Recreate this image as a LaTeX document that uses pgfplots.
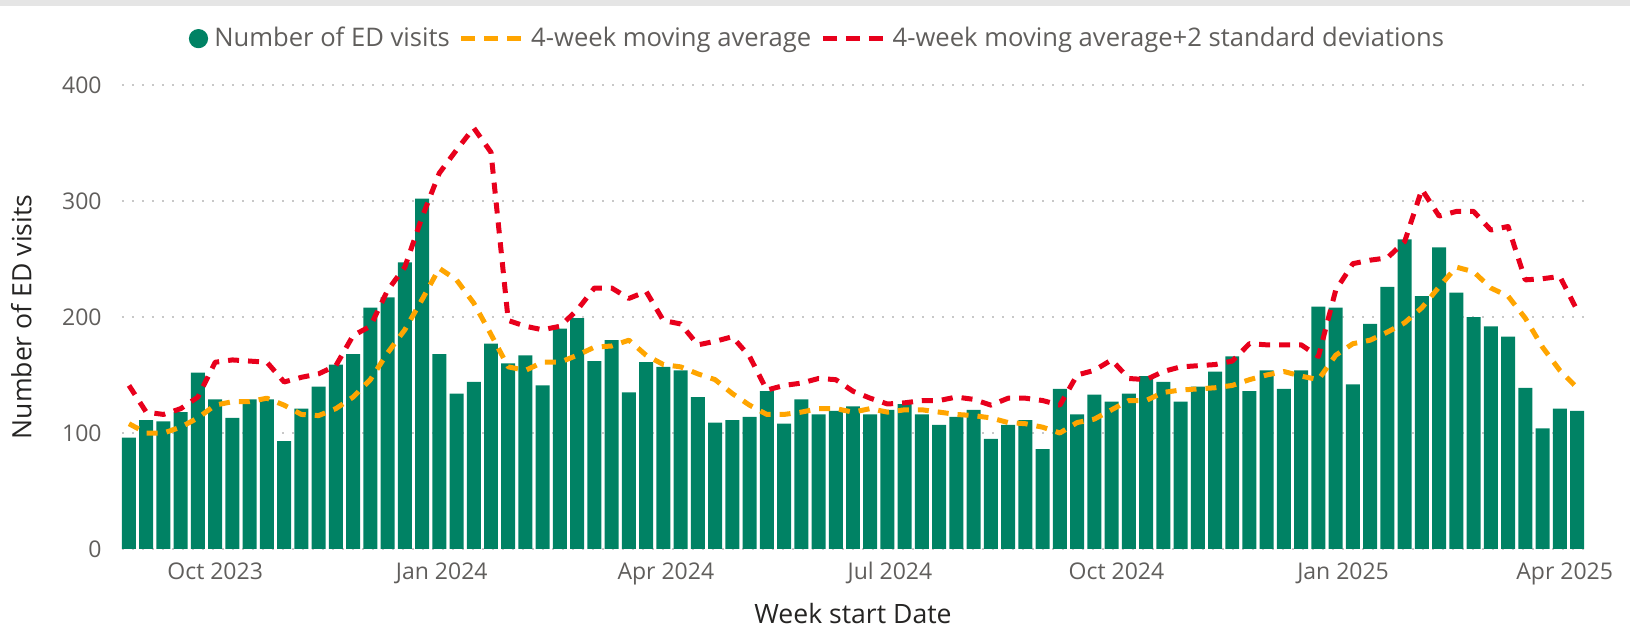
\documentclass[border=0pt]{standalone}
\usepackage{pgfplots}
\pgfplotsset{compat=1.18}
\usepackage{pgfplotstable}
\usepackage{fontspec}
\setmainfont{Open Sans}
\definecolor{barg}{RGB}{0,130,100}
\definecolor{maor}{RGB}{255,165,0}
\definecolor{sdred}{RGB}{232,0,28}
\definecolor{ticktext}{RGB}{96,94,92}
\definecolor{titletext}{RGB}{37,36,35}
\definecolor{gridc}{RGB}{200,200,200}

% x = days since 27 Aug 2023 (week start); v = ED visits; ma = 4-week moving average; sd = ma + 2 SD
\pgfplotstableread{
x v ma sd
0 96 108 141
7 111 100 118
14 110 100 116
21 118 105 121
28 152 113 131
35 129 124 161
42 113 127 163
49 129 127 162
56 129 130 161
63 93 124 144
70 121 116 148
77 140 115 151
84 159 121 158
91 168 131 184
98 208 146 192
105 217 169 223
112 247 189 243
119 302 215 286
126 168 242 324
133 134 232 344
140 144 212 363
147 177 185 342
154 160 157 197
161 167 154 192
168 141 161 189
175 190 161 192
182 199 167 206
189 162 174 225
196 180 175 225
203 135 180 216
210 161 167 222
217 157 159 197
224 154 157 194
231 131 151 176
238 109 146 179
245 111 134 183
252 114 124 166
259 136 116 137
266 108 116 141
273 129 118 143
280 116 121 147
287 119 121 146
294 123 118 136
301 116 121 130
308 120 118 125
315 125 120 126
322 116 120 128
329 107 118 128
336 114 116 131
343 120 115 129
350 95 113 124
357 107 109 130
364 111 108 130
371 86 105 128
378 138 100 124
385 116 109 150
392 133 112 154
399 127 120 163
406 134 128 147
413 149 128 146
420 144 135 153
427 127 137 157
434 140 138 158
441 153 139 159
448 166 141 162
455 136 146 177
462 154 150 176
469 138 153 176
476 154 149 176
483 209 146 166
490 208 167 223
497 142 177 246
504 194 180 249
511 226 187 251
518 267 195 265
525 218 208 310
532 260 226 287
539 221 243 291
546 200 239 291
553 192 225 275
560 183 218 278
567 139 199 232
574 104 174 233
581 121 154 235
588 119 139 206
}\datatable

\begin{document}
\begin{tikzpicture}
\useasboundingbox (-61pt,-42pt) rectangle (754pt,274.5pt);
\fill[black!10] (-61pt,271.5pt) rectangle (754pt,274.5pt);
\begin{axis}[
  at={(0pt,0pt)}, anchor=south west,
  scale only axis, width=731pt, height=232pt,
  xmin=-2.84, xmax=590.84, ymin=0, ymax=400,
  axis line style={draw=none},
  major tick length=0pt, tick style={draw=none},
  ytick={0,100,200,300,400},
  ymajorgrids,
  grid style={gridc, line width=1pt, dash pattern=on 1pt off 4pt},
  xtick={35,127,218,309,401,493,583},
  xticklabels={Oct 2023,Jan 2024,Apr 2024,Jul 2024,Oct 2024,Jan 2025,Apr 2025},
  /pgf/number format/assume math mode=true,
  yticklabel style={font=\fontsize{11.5}{13}\selectfont, text=ticktext, inner sep=0pt},
  xticklabel style={font=\fontsize{11.5}{13}\selectfont, text=ticktext, inner sep=0pt, anchor=north},
  yticklabel shift=10pt,
  xticklabel shift=6.5pt,
  ylabel={Number of ED visits},
  ylabel style={at={(axis description cs:-0.0616,0.5)}, anchor=south, rotate=0, inner sep=0pt, font=\fontsize{13.3}{15}\selectfont, text=titletext},
  xlabel={Week start Date},
  xlabel style={at={(axis description cs:0.5,-0.1616)}, anchor=base, inner sep=0pt, font=\fontsize{13.3}{15}\selectfont, text=titletext},
  legend columns=3,
  legend style={at={(axis description cs:0.475,1.1)}, anchor=center, draw=none, fill=none,
    font=\fontsize{12.8}{14}\selectfont, text=ticktext,
    nodes={inner sep=0pt},
    /tikz/every odd column/.append style={column sep=1.7pt},
    /tikz/every even column/.append style={column sep=4.5pt}},
]
\addplot[ybar, bar width=5.68, fill=barg, draw=none,
  legend image code/.code={\fill[barg] (4.8pt,0pt) circle (4.8pt); \path (11pt,0pt);}]
  table[x=x,y=v]{\datatable};
\addlegendentry{Number of ED visits}
\addplot[maor, line width=2.5pt, dash pattern=on 5.5pt off 4.5pt, no marks, line join=round,
  legend image code/.code={\draw[maor, line width=2.5pt, dash pattern=on 7pt off 4.5pt] (0pt,0pt) -- (32pt,0pt);}]
  table[x=x,y=ma]{\datatable};
\addlegendentry{4-week moving average}
\addplot[sdred, line width=2.5pt, dash pattern=on 5.5pt off 4.5pt, no marks, line join=round,
  legend image code/.code={\draw[sdred, line width=2.5pt, dash pattern=on 7pt off 4.5pt] (0pt,0pt) -- (32pt,0pt);}]
  table[x=x,y=sd]{\datatable};
\addlegendentry{4-week moving average+2 standard deviations}
\end{axis}
\end{tikzpicture}
\end{document}
